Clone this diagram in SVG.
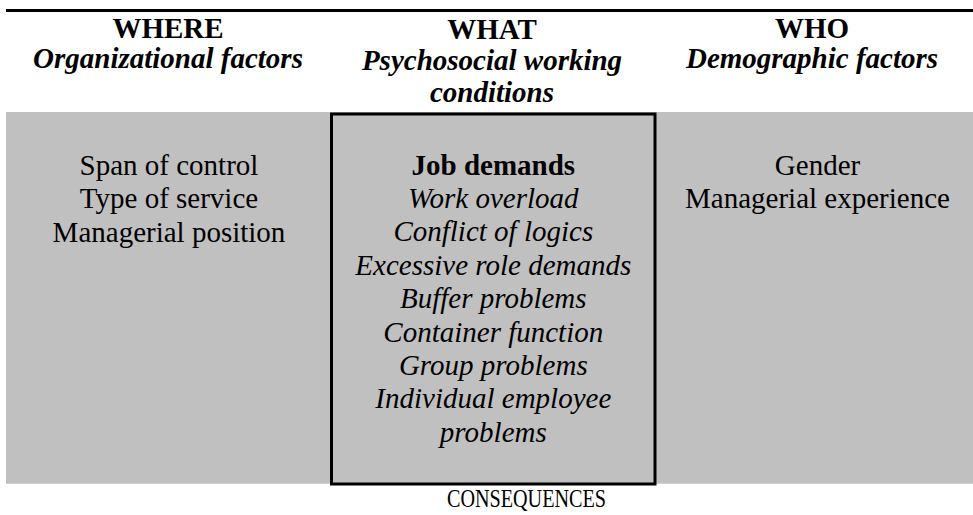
<svg xmlns="http://www.w3.org/2000/svg" width="973" height="515" viewBox="0 0 973 515">
<style>
text{font-family:"Liberation Serif","Times New Roman",serif;font-size:29px;fill:#000;text-anchor:middle}
.h{font-weight:bold}
.hi{font-weight:bold;font-style:italic}
.i{font-style:italic}
</style>
<rect x="0" y="0" width="973" height="515" fill="#fff"/>
<line x1="6" y1="10.5" x2="973" y2="10.5" stroke="#000" stroke-width="3"/>
<rect x="6" y="112" width="967" height="371.7" fill="#c0c0c0"/>
<g id="where">
<text class="h" x="168" y="37.7">WHERE</text>
<text class="hi" x="168" y="68.3">Organizational factors</text>
<text x="169" y="175">Span of control</text>
<text x="169" y="208.3">Type of service</text>
<text x="169" y="241.7">Managerial position</text>
</g>
<g id="what">
<text class="h" x="492" y="38.5">WHAT</text>
<text class="hi" x="492" y="70">Psychosocial working</text>
<text class="hi" x="492" y="101.5">conditions</text>
<rect x="331.5" y="114" width="323.5" height="370" fill="none" stroke="#000" stroke-width="3"/>
<text class="h" x="493.3" y="174.5">Job demands</text>
<text class="i" x="493.3" y="207.9">Work overload</text>
<text class="i" x="493.3" y="241.3">Conflict of logics</text>
<text class="i" x="493.3" y="274.7">Excessive role demands</text>
<text class="i" x="493.3" y="308.1">Buffer problems</text>
<text class="i" x="493.3" y="341.5">Container function</text>
<text class="i" x="493.3" y="374.9">Group problems</text>
<text class="i" x="493.3" y="408.3">Individual employee</text>
<text class="i" x="493.3" y="441.7">problems</text>
</g>
<g id="who">
<text class="h" x="812" y="37.7">WHO</text>
<text class="hi" x="812" y="68.3">Demographic factors</text>
<text x="817.5" y="175">Gender</text>
<text x="817.5" y="208.3">Managerial experience</text>
</g>
<g id="consequences">
<text x="526.5" y="507" style="font-size:26px" textLength="159" lengthAdjust="spacingAndGlyphs">CONSEQUENCES</text>
</g>
<g id="connectors"/>
</svg>
